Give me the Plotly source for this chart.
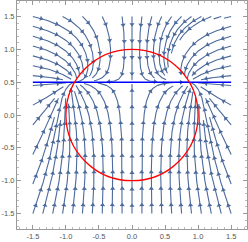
import math
import numpy as np
import plotly.graph_objects as go

# ---------------- data ----------------
x_range = [-1.5, 1.5]          # stream region
y_range = [-1.5, 1.5]
line_y = 0.5                   # blue line  y = 1/2
circle_r = 1.0                 # red circle x^2 + y^2 = 1
y_gain = 3.0                   # strength of the y component
y_decay = 0.6                  # weaker vertical pull above the line
tick_vals = [-1.5, -1.0, -0.5, 0.0, 0.5, 1.0, 1.5]
tick_text = ["-1.5", "-1.0", "-0.5", "0.0", "0.5", "1.0", "1.5"]


# vector field: x' = x (r^2 - x^2 - y^2),  y' = k (1/2 - y) e^(-a y)
def field(x, y):
    return (x * (circle_r ** 2 - x * x - y * y),
            y_gain * (line_y - y) * math.exp(-y_decay * y))


xs_eq = math.sqrt(circle_r ** 2 - line_y ** 2)
equilibria = [(-xs_eq, line_y), (xs_eq, line_y), (0.0, line_y)]

# ---------------- streamlines ----------------
DSEP = 0.15
DTEST = 0.05
H = 0.01
CELL = DTEST
grid = {}


def near(x, y, d):
    cx, cy = int(math.floor(x / CELL)), int(math.floor(y / CELL))
    r = int(math.ceil(d / CELL))
    d2 = d * d
    for i in range(cx - r, cx + r + 1):
        for j in range(cy - r, cy + r + 1):
            for (px, py) in grid.get((i, j), ()):
                if (px - x) ** 2 + (py - y) ** 2 < d2:
                    return True
    return False


def add(pts):
    for (x, y) in pts:
        key = (int(math.floor(x / CELL)), int(math.floor(y / CELL)))
        grid.setdefault(key, []).append((x, y))


def unit(x, y, s):
    u, v = field(x, y)
    n = math.hypot(u, v)
    if n < 1e-12:
        return 0.0, 0.0
    return s * u / n, s * v / n


def trace(x0, y0, s):
    pts = []
    x, y = x0, y0
    for _ in range(3000):
        k1 = unit(x, y, s)
        k2 = unit(x + 0.5 * H * k1[0], y + 0.5 * H * k1[1], s)
        k3 = unit(x + 0.5 * H * k2[0], y + 0.5 * H * k2[1], s)
        k4 = unit(x + H * k3[0], y + H * k3[1], s)
        nx = x + H / 6 * (k1[0] + 2 * k2[0] + 2 * k3[0] + k4[0])
        ny = y + H / 6 * (k1[1] + 2 * k2[1] + 2 * k3[1] + k4[1])
        if not (x_range[0] <= nx <= x_range[1] and y_range[0] <= ny <= y_range[1]):
            break
        if near(nx, ny, DTEST):
            break
        if any((nx - ex) ** 2 + (ny - ey) ** 2 < 0.02 ** 2 for ex, ey in equilibria):
            break
        pts.append((nx, ny))
        x, y = nx, ny
    return pts


seeds = []
n_edge = int(round((x_range[1] - x_range[0]) / DSEP))
for i in range(n_edge + 1):
    t = x_range[0] + i * (x_range[1] - x_range[0]) / n_edge
    seeds += [(t, y_range[0]), (t, y_range[1]), (x_range[0], t), (x_range[1], t)]
g = np.arange(x_range[0], x_range[1] + 1e-9, DSEP / 2)
for yy in g:
    for xx in g:
        seeds.append((float(xx), float(yy)))

lines = []
for (sx, sy) in seeds:
    if near(sx, sy, DSEP * 0.9):
        continue
    fwd = trace(sx, sy, 1.0)
    bwd = trace(sx, sy, -1.0)
    pts = bwd[::-1] + [(sx, sy)] + fwd
    if len(pts) < 10:
        continue
    add(pts)
    lines.append(pts)

lx, ly = [], []
ax_, ay_, ang = [], [], []
ARROW_STEP = 0.25
for pts in lines:
    arr = np.array(pts)
    lx += list(arr[:, 0]) + [None]
    ly += list(arr[:, 1]) + [None]
    seg = np.hypot(np.diff(arr[:, 0]), np.diff(arr[:, 1]))
    cum = np.concatenate([[0], np.cumsum(seg)])
    total = cum[-1]
    s = 0.12
    while s < total - 0.03:
        k = int(np.searchsorted(cum, s))
        k = min(max(k, 1), len(arr) - 1)
        dx = arr[k, 0] - arr[k - 1, 0]
        dy = arr[k, 1] - arr[k - 1, 1]
        ax_.append(arr[k, 0])
        ay_.append(arr[k, 1])
        ang.append(math.degrees(math.atan2(dx, dy)))
        s += ARROW_STEP

stream_color = "rgb(76,106,156)"

fig = go.Figure()
fig.add_trace(go.Scatter(x=lx, y=ly, mode="lines",
                         line=dict(color=stream_color, width=1.1),
                         hoverinfo="skip", showlegend=False))
fig.add_trace(go.Scatter(x=ax_, y=ay_, mode="markers",
                         marker=dict(symbol="triangle-up", size=4.5, angle=ang,
                                     color=stream_color, line=dict(width=0)),
                         hoverinfo="skip", showlegend=False))
fig.add_trace(go.Scatter(x=x_range, y=[line_y, line_y], mode="lines",
                         line=dict(color="rgb(0,0,255)", width=1.5),
                         hoverinfo="skip", showlegend=False))
fig.add_shape(type="circle", xref="x", yref="y",
              x0=-circle_r, y0=-circle_r, x1=circle_r, y1=circle_r,
              line=dict(color="rgb(255,0,0)", width=1.3), layer="above")

axis_common = dict(
    tickvals=tick_vals, ticktext=tick_text,
    ticks="inside", ticklen=4, tickcolor="#999", tickwidth=0.8,
    showline=True, linecolor="#999", linewidth=1, mirror="allticks",
    showgrid=False, zeroline=False, automargin=False,
    tickfont=dict(family="Liberation Sans", size=7.5, color="#555"),
    minor=dict(ticks="inside", ticklen=2, tickcolor="#bbb", dtick=0.1),
)
fig.update_xaxes(range=[-1.74, 1.74], **axis_common)
fig.update_yaxes(range=[-1.735, 1.735], **axis_common)
fig.update_layout(width=248, height=242,
                  margin=dict(l=17, r=1, t=1, b=13),
                  paper_bgcolor="white", plot_bgcolor="white")
fig.write_html("out.html",
               config={"displayModeBar": False},
               post_script="document.body.style.margin='0';"
                           "document.body.style.overflow='hidden';")
